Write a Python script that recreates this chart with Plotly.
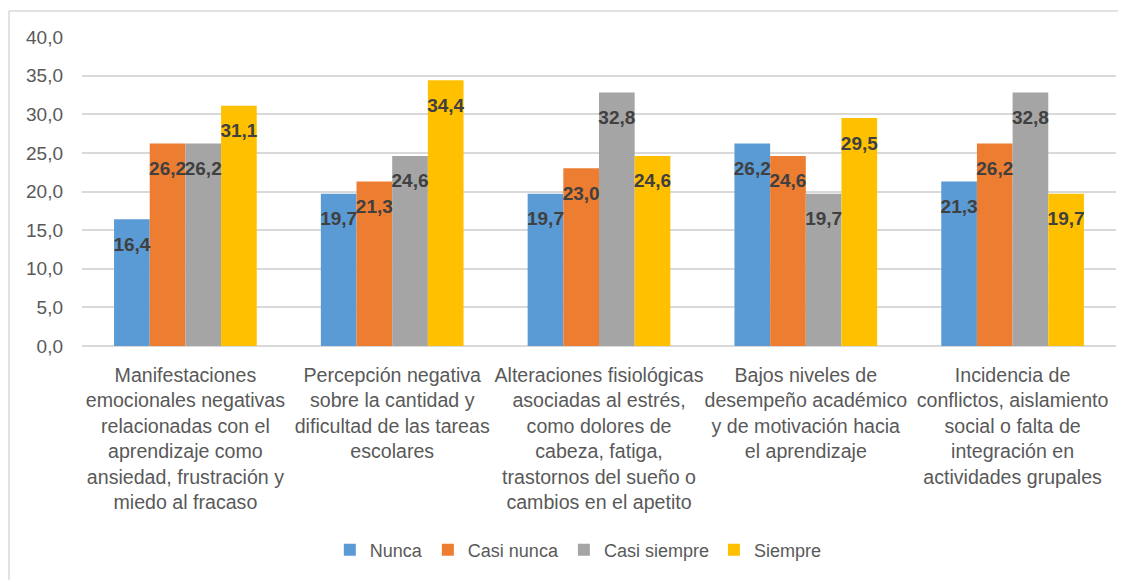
import plotly.graph_objects as go

categories = [
    "Manifestaciones<br>emocionales negativas<br>relacionadas con el<br>aprendizaje como<br>ansiedad, frustración y<br>miedo al fracaso",
    "Percepción negativa<br>sobre la cantidad y<br>dificultad de las tareas<br>escolares",
    "Alteraciones fisiológicas<br>asociadas al estrés,<br>como dolores de<br>cabeza, fatiga,<br>trastornos del sueño o<br>cambios en el apetito",
    "Bajos niveles de<br>desempeño académico<br>y de motivación hacia<br>el aprendizaje",
    "Incidencia de<br>conflictos, aislamiento<br>social o falta de<br>integración en<br>actividades grupales",
]
series_names = ["Nunca", "Casi nunca", "Casi siempre", "Siempre"]
nunca = [16.4, 19.7, 19.7, 26.2, 21.3]
casi_nunca = [26.2, 21.3, 23.0, 24.6, 26.2]
casi_siempre = [26.2, 24.6, 32.8, 19.7, 32.8]
siempre = [31.1, 34.4, 24.6, 29.5, 19.7]
y_ticks = [0, 5, 10, 15, 20, 25, 30, 35, 40]

colors = ["#5B9BD5", "#ED7D31", "#A5A5A5", "#FFC000"]
series_values = [nunca, casi_nunca, casi_siempre, siempre]

fig = go.Figure()
for i, (name, vals) in enumerate(zip(series_names, series_values)):
    fig.add_trace(go.Bar(
        x=categories, y=vals, name=name, marker_color=colors[i],
        marker_line_width=0, offsetgroup=str(i), hoverinfo="skip",
    ))
for i, (name, vals) in enumerate(zip(series_names, series_values)):
    fig.add_trace(go.Scatter(
        x=categories, y=vals, mode="markers+text", showlegend=False,
        offsetgroup=str(i), texttemplate="%{y:.1f}", textposition="bottom center",
        marker=dict(size=26, opacity=0), hoverinfo="skip",
        textfont=dict(family="Liberation Sans, Arial", size=19, color="#404040", weight="bold"),
        cliponaxis=False,
    ))

border = dict(color="#D9D9D9", width=1.5)
fig.update_layout(
    width=1110, height=572,
    margin=dict(l=74, r=2, t=29, b=234),
    paper_bgcolor="white", plot_bgcolor="white",
    barmode="group", bargap=0.31, bargroupgap=0,
    scattermode="group", scattergap=0.31,
    separators=",.",
    font=dict(family="Liberation Sans, Arial", size=19.6, color="#595959"),
    showlegend=True,
    legend=dict(orientation="h", x=0.48, xanchor="center", y=-0.66, yanchor="middle",
                font=dict(size=18, color="#595959"), traceorder="normal",
                itemwidth=30),
    shapes=[
        dict(type="line", xref="paper", yref="paper", x0=-0.0706, x1=1.02,
             y0=1.084, y1=1.084, line=border, layer="below"),
        dict(type="line", xref="paper", yref="paper", x0=-0.0706, x1=-0.0706,
             y0=-0.9, y1=1.084, line=border, layer="below"),
    ],
)
fig.update_yaxes(range=[0, 40], tickvals=y_ticks, tickformat=".1f",
                 tickfont=dict(size=19),
                 showgrid=True, gridcolor="#D9D9D9", gridwidth=1.5,
                 zeroline=True, zerolinecolor="#D9D9D9", zerolinewidth=1.5,
                 showline=False, ticks="", ticklabelstandoff=18)
fig.update_xaxes(showgrid=False, showline=False, ticks="", tickangle=0,
                 ticklabelstandoff=15)

fig.write_html("out.html")
